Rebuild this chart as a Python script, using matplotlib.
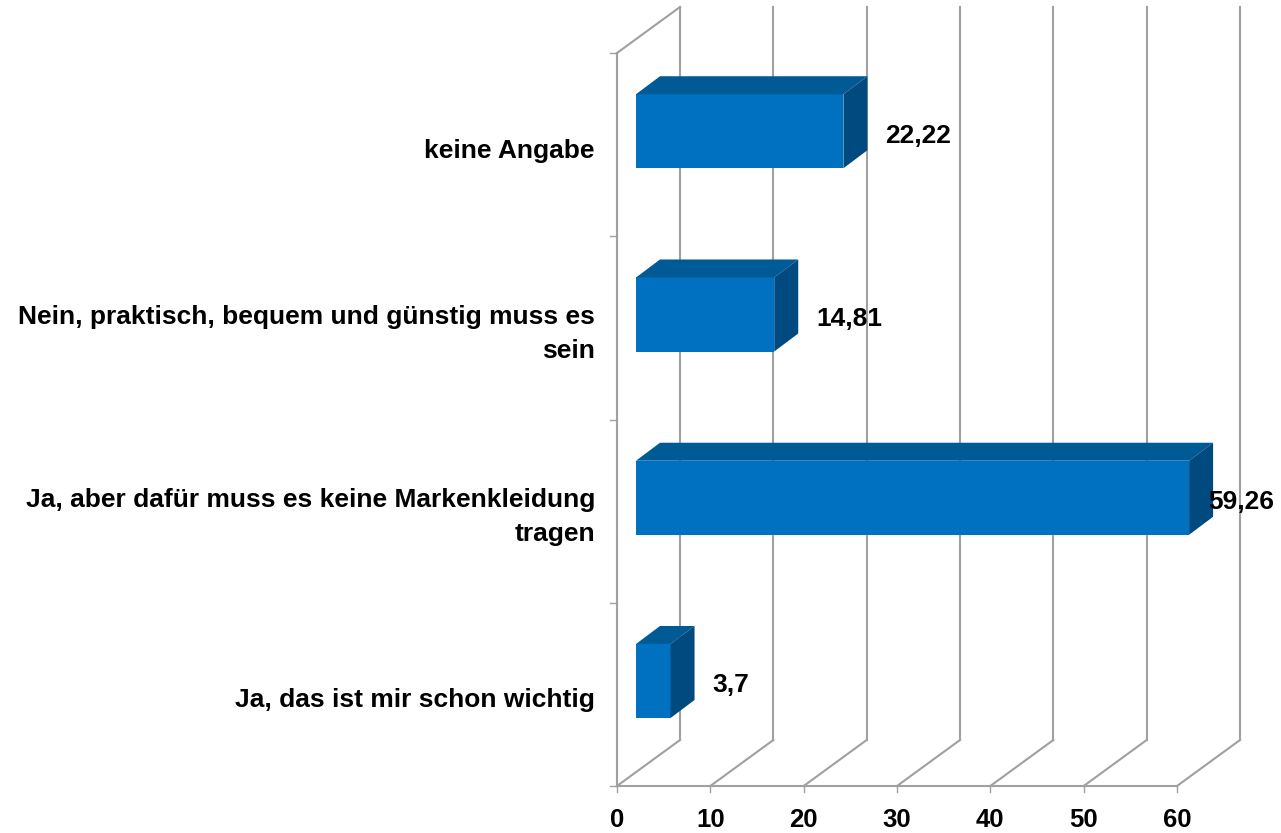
import matplotlib
matplotlib.use("Agg")
import matplotlib.pyplot as plt
from matplotlib.patches import Polygon

plt.rcParams['font.family'] = ['Liberation Sans', 'DejaVu Sans']

# data, bottom to top
categories = [
    "Ja, das ist mir schon wichtig",
    "Ja, aber dafür muss es keine Markenkleidung\ntragen",
    "Nein, praktisch, bequem und günstig muss es\nsein",
    "keine Angabe",
]
values = [3.7, 59.26, 14.81, 22.22]
value_labels = ["3,7", "59,26", "14,81", "22,22"]
ticks = [0, 10, 20, 30, 40, 50, 60]

W, H = 1281, 833
# layout in pixels
x0_px, y0_px = 617, 786          # front corner of the floor (value 0)
ppu = 560 / 60                   # pixels per value unit
cpx = 733 / 4                    # pixels per category
wall_dx, wall_dy = 63 / ppu, 46 / cpx
bar_off = 19 / ppu
bar_dx, bar_dy = 24 / ppu, 18 / cpx
bar_lo, bar_hi = 0.371, 0.775

front_c = '#0070c0'
top_c = '#005a96'
side_c = '#004a80'
grid_c = '#a0a0a0'

fig = plt.figure(figsize=(W / 100, H / 100), dpi=100)
ax = fig.add_axes([0, 0, 1, 1])
ax.set_xlim(-x0_px / ppu, (W - x0_px) / ppu)
ax.set_ylim(-(H - y0_px) / cpx, y0_px / cpx)
ax.axis('off')

n = len(categories)
lw = 1.5

# walls / gridlines
for t in ticks:
    ax.plot([t + wall_dx, t + wall_dx], [wall_dy, n + wall_dy], color=grid_c, lw=lw, zorder=1)
    ax.plot([t, t + wall_dx], [0, wall_dy], color=grid_c, lw=lw, zorder=1)
    ax.plot([t, t], [0, -6 / cpx], color=grid_c, lw=1, zorder=1)
    ax.text(t, -34 / cpx, str(t), ha='center', va='center', fontsize=18.5,
            fontweight='bold')
ax.plot([0, 0], [0, n], color=grid_c, lw=lw, zorder=1)
ax.plot([0, wall_dx], [n, n + wall_dy], color=grid_c, lw=lw, zorder=1)
ax.plot([0, ticks[-1]], [0, 0], color=grid_c, lw=lw, zorder=1)
for i in range(n + 1):
    ax.plot([-7 / ppu, 0], [i, i], color=grid_c, lw=1, zorder=1)

# bars
label_limit = (1274 - x0_px) / ppu
for i, (cat, v, lab) in enumerate(zip(categories, values, value_labels)):
    xa, xb = bar_off, bar_off + v
    ya, yb = i + bar_lo, i + bar_hi
    ax.add_patch(Polygon([(xa, ya), (xb, ya), (xb, yb), (xa, yb)],
                         closed=True, fc=front_c, ec='none', zorder=3))
    ax.add_patch(Polygon([(xa, yb), (xb, yb), (xb + bar_dx, yb + bar_dy), (xa + bar_dx, yb + bar_dy)],
                         closed=True, fc=top_c, ec='none', zorder=3))
    ax.add_patch(Polygon([(xb, ya), (xb + bar_dx, ya + bar_dy), (xb + bar_dx, yb + bar_dy), (xb, yb)],
                         closed=True, fc=side_c, ec='none', zorder=3))

    lx = xb + bar_dx + 18 / ppu
    ha = 'left'
    if lx + 65 / ppu > label_limit:
        lx, ha = label_limit, 'right'
    ax.text(lx, i + 0.565 - 3 / cpx, lab, ha=ha, va='center', fontsize=19,
            fontweight='bold', zorder=4)

    ax.text(-22 / ppu, i + 0.5 - 6 / cpx, cat, ha='right', va='center', fontsize=19,
            fontweight='bold', linespacing=1.5, multialignment='right')

fig.savefig('out.png', dpi=100)
